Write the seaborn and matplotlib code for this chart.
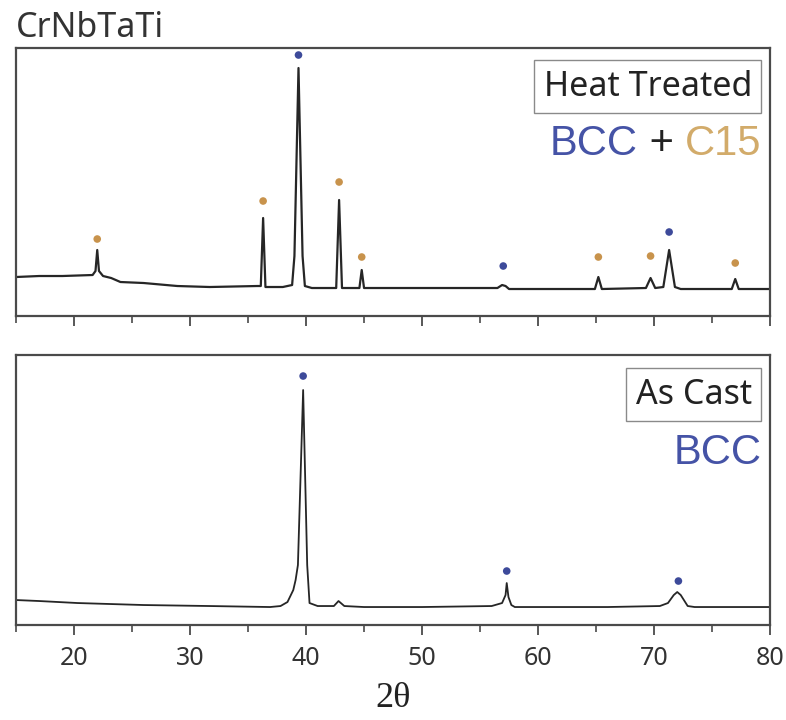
import matplotlib
matplotlib.use("Agg")
import matplotlib.pyplot as plt
import seaborn as sns
import pandas as pd

# ---------------- data ----------------
# Heat treated pattern (2theta, intensity a.u.)
ht_x = [15.0, 17.0, 19.0, 21.6, 21.85, 22.0, 22.15, 22.5, 23.2, 24.0, 26.0, 28.9,
        31.7, 35.8, 36.1, 36.3, 36.5, 38.0, 38.8, 39.0, 39.35, 39.7, 39.9, 40.5,
        42.6, 42.85, 43.1, 44.6, 44.8, 45.0, 50.0, 56.5, 56.9, 57.2, 57.5, 64.9,
        65.2, 65.5, 69.3, 69.7, 70.1, 70.8, 71.3, 71.8, 72.3, 76.7, 77.0, 77.3, 80.0]
ht_y = [39, 40, 40, 41, 45, 66, 45, 40, 38, 34, 33, 30,
        29, 30, 30, 98, 29, 29, 31, 60, 248, 60, 30, 28,
        28, 116, 28, 28, 46, 28, 28, 28, 31, 30, 27, 27,
        39, 27, 28, 38, 28, 29, 66, 29, 27, 27, 37, 27, 27]

# As cast pattern
ac_x = [15.0, 17.0, 20.3, 26.0, 31.7, 36.9, 37.8, 38.4, 38.9, 39.1, 39.3, 39.75,
        40.1, 40.3, 41.0, 42.4, 42.8, 43.3, 45.0, 50.0, 56.0, 56.9, 57.2, 57.3,
        57.45, 57.7, 58.0, 66.0, 70.5, 71.2, 71.7, 72.0, 72.3, 72.9, 73.5, 80.0]
ac_y = [25, 24, 22, 20, 19, 18, 19, 23, 35, 45, 60, 235,
        60, 22, 19, 19, 24, 19, 18, 18, 19, 22, 30, 42,
        28, 20, 18, 18, 19, 22, 30, 33, 30, 19, 18, 18]

# peak markers
ht_mark_x = [22.0, 36.3, 39.35, 42.85, 44.8, 57.0, 65.2, 69.7, 71.3, 77.0]
ht_mark_y = [77, 115, 261, 134, 59, 50, 59, 60, 84, 53]
ht_mark_phase = ["C15", "C15", "BCC", "C15", "C15", "BCC", "C15", "C15", "BCC", "C15"]

ac_mark_x = [39.75, 57.3, 72.1]
ac_mark_y = [249, 54, 44]
ac_mark_phase = ["BCC", "BCC", "BCC"]

x_ticks = [20, 30, 40, 50, 60, 70, 80]
x_minor_ticks = [15, 25, 35, 45, 55, 65, 75]
title = "CrNbTaTi"
x_label = "2θ"

# ---------------- style ----------------
BCC_COL = "#4553a6"
C15_COL = "#d2ab6a"
MARK_PAL = {"BCC": "#3d4a9a", "C15": "#c8934c"}
LINE_COL = "#262626"
SPINE_COL = "#4a4a4a"

sns.set_style("white")
plt.rcParams["font.family"] = ["Noto Sans", "DejaVu Sans"]

fig = plt.figure(figsize=(7.86, 7.2), dpi=100)
ax_top = fig.add_axes([0.0204, 0.5611, 0.9593, 0.3722])
ax_bot = fig.add_axes([0.0204, 0.1319, 0.9593, 0.3750])

ht_df = pd.DataFrame({"x": ht_x, "y": ht_y})
ac_df = pd.DataFrame({"x": ac_x, "y": ac_y})
htm_df = pd.DataFrame({"x": ht_mark_x, "y": ht_mark_y, "phase": ht_mark_phase})
acm_df = pd.DataFrame({"x": ac_mark_x, "y": ac_mark_y, "phase": ac_mark_phase})

sns.lineplot(data=ht_df, x="x", y="y", ax=ax_top, color=LINE_COL, lw=1.6,
             estimator=None, sort=False)
sns.lineplot(data=ac_df, x="x", y="y", ax=ax_bot, color=LINE_COL, lw=1.3,
             estimator=None, sort=False)
sns.scatterplot(data=htm_df, x="x", y="y", hue="phase", palette=MARK_PAL, ax=ax_top,
                s=30, edgecolor="none", legend=False, zorder=5)
sns.scatterplot(data=acm_df, x="x", y="y", hue="phase", palette=MARK_PAL, ax=ax_bot,
                s=30, edgecolor="none", legend=False, zorder=5)

for ax, ylim in ((ax_top, 268), (ax_bot, 270)):
    ax.set_xlim(15, 80)
    ax.set_ylim(0, ylim)
    ax.set_yticks([])
    ax.set_xticks(x_ticks)
    ax.set_xticks(x_minor_ticks, minor=True)
    ax.tick_params(axis="x", which="both", bottom=True, top=False)
    ax.tick_params(axis="x", which="major", direction="out", length=7, width=1.3,
                   color=SPINE_COL, labelsize=18, labelcolor="#333333", pad=8)
    ax.tick_params(axis="x", which="minor", direction="out", length=5, width=1.2,
                   color=SPINE_COL)
    ax.set_xlabel("")
    ax.set_ylabel("")
    for sp in ax.spines.values():
        sp.set_visible(True)
        sp.set_color(SPINE_COL)
        sp.set_linewidth(1.6)

ax_top.tick_params(axis="x", which="major", labelbottom=False)

ax_bot.set_xlabel(x_label, fontsize=26, family=["Liberation Serif", "DejaVu Serif"],
                  color="#222222", labelpad=8)

fig.text(0.0204, 1 - 37 / 720, title, fontsize=24.5, color="#333333", ha="left",
         va="baseline")

box = dict(boxstyle="square,pad=0.28", facecolor="white", edgecolor="#8a8a8a", lw=1.0)
ax_top.text(0.976, 0.856, "Heat Treated", transform=ax_top.transAxes, ha="right",
            va="center", fontsize=24.5, color="#222222", bbox=box)
ax_bot.text(0.976, 0.853, "As Cast", transform=ax_bot.transAxes, ha="right",
            va="center", fontsize=24.5, color="#222222", bbox=box)

phase_font = ["Liberation Sans", "DejaVu Sans"]
t_c15 = ax_top.text(0.989, 0.60, "C15", transform=ax_top.transAxes, ha="right",
                    va="baseline", fontsize=30, color=C15_COL, family=phase_font)
t_plus = ax_top.annotate(" + ", xy=(0, 0), xycoords=t_c15, ha="right", va="bottom",
                         fontsize=30, color="#222222", family=phase_font)
ax_top.annotate("BCC", xy=(0, 0), xycoords=t_plus, ha="right", va="bottom",
                fontsize=30, color=BCC_COL, family=phase_font)
ax_bot.text(0.989, 0.595, "BCC", transform=ax_bot.transAxes, ha="right",
            va="baseline", fontsize=30, color=BCC_COL, family=phase_font)

fig.savefig("out.png", dpi=100)
